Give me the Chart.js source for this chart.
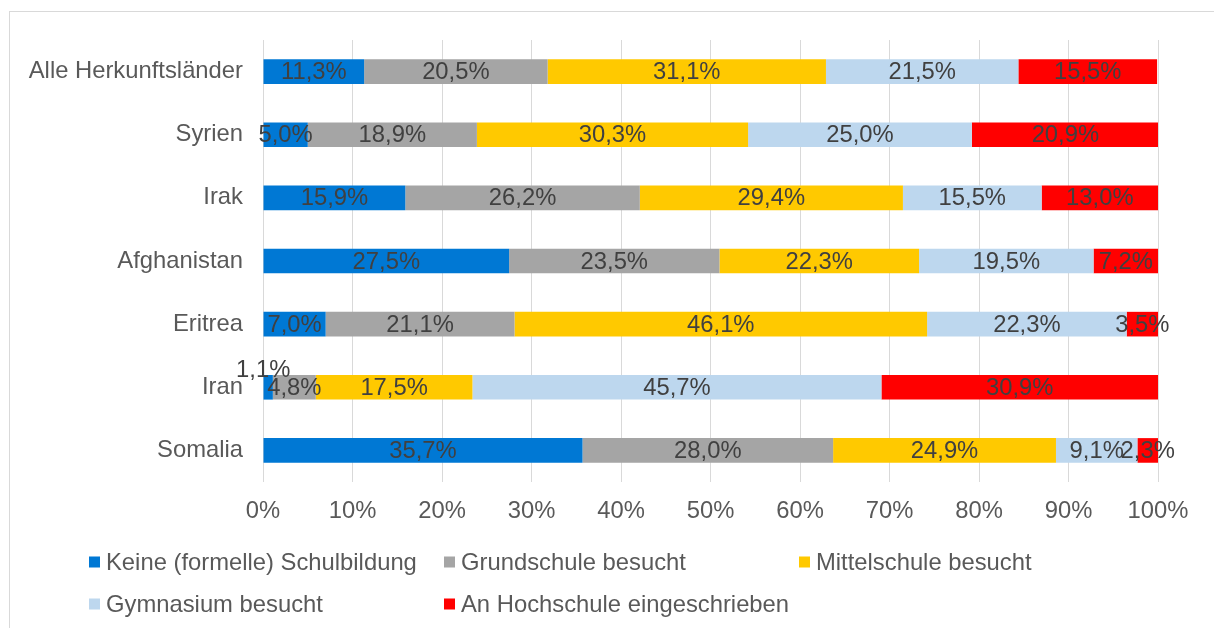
<!DOCTYPE html>
<html>
<head>
<meta charset="utf-8">
<script src="https://cdn.jsdelivr.net/npm/chart.js@4.4.1/dist/chart.umd.min.js"></script>
<style>
  html, body { margin: 0; padding: 0; background: #ffffff; overflow: hidden; }
  #wrap { position: relative; width: 1214px; height: 628px; overflow: hidden; }
  #frame { position: absolute; left: 9px; top: 11px; width: 1300px; height: 700px; border: 1px solid #d9d9d9; box-sizing: border-box; }
  #c { position: absolute; left: 0; top: 0; }
</style>
</head>
<body>
<div id="wrap">
  <div id="frame"></div>
  <canvas id="c" width="1214" height="628"></canvas>
</div>
<script>
// ---- Data ----
const categories = ["Alle Herkunftsländer", "Syrien", "Irak", "Afghanistan", "Eritrea", "Iran", "Somalia"];
const seriesNames = ["Keine (formelle) Schulbildung", "Grundschule besucht", "Mittelschule besucht", "Gymnasium besucht", "An Hochschule eingeschrieben"];
const keineSchulbildung = [11.3, 5.0, 15.9, 27.5, 7.0, 1.1, 35.7];
const grundschule       = [20.5, 18.9, 26.2, 23.5, 21.1, 4.8, 28.0];
const mittelschule      = [31.1, 30.3, 29.4, 22.3, 46.1, 17.5, 24.9];
const gymnasium         = [21.5, 25.0, 15.5, 19.5, 22.3, 45.7, 9.1];
const hochschule        = [15.5, 20.9, 13.0, 7.2, 3.5, 30.9, 2.3];
const xTicks = [0, 10, 20, 30, 40, 50, 60, 70, 80, 90, 100];

const seriesValues = [keineSchulbildung, grundschule, mittelschule, gymnasium, hochschule];
const seriesColors = ["#0078D4", "#A5A5A5", "#FFC900", "#BDD7EE", "#FF0000"];

const FONT = "'Liberation Sans', Arial, sans-serif";
const FSIZE = 23.8;

function fmt(v) { return v.toFixed(1).replace('.', ',') + '%'; }

const dataLabelPlugin = {
  id: 'dataLabels',
  afterDatasetsDraw(chart) {
    const ctx = chart.ctx;
    ctx.save();
    ctx.font = FSIZE + 'px ' + FONT;
    ctx.fillStyle = '#404040';
    ctx.textAlign = 'center';
    ctx.textBaseline = 'middle';
    chart.data.datasets.forEach((ds, i) => {
      const meta = chart.getDatasetMeta(i);
      meta.data.forEach((bar, j) => {
        const v = ds.data[j];
        const c = bar.getCenterPoint();
        let x = c.x, y = c.y + 1;
        if (v < 2) { x = c.x - 5; y = c.y - 17; }
        ctx.fillText(fmt(v), x, y);
      });
    });
    ctx.restore();
  }
};

const legendPlugin = {
  id: 'gridLegend',
  afterDraw(chart) {
    const ctx = chart.ctx;
    ctx.save();
    ctx.font = FSIZE + 'px ' + FONT;
    ctx.textBaseline = 'middle';
    ctx.textAlign = 'left';
    const x0 = 89, colW = 355, rowY = [562, 604], box = 11;
    chart.data.datasets.forEach((ds, i) => {
      const col = i % 3, row = Math.floor(i / 3);
      const x = x0 + col * colW, y = rowY[row];
      ctx.fillStyle = ds.backgroundColor;
      ctx.fillRect(x, y - box / 2, box, box);
      ctx.fillStyle = '#595959';
      ctx.fillText(ds.label, x + box + 6, y + 1);
    });
    ctx.restore();
  }
};

new Chart(document.getElementById('c'), {
  type: 'bar',
  data: {
    labels: categories,
    datasets: seriesValues.map((vals, i) => ({
      label: seriesNames[i],
      data: vals,
      backgroundColor: seriesColors[i],
      borderWidth: 0,
      barPercentage: 0.39,
      categoryPercentage: 1.0
    }))
  },
  options: {
    indexAxis: 'y',
    responsive: false,
    animation: false,
    devicePixelRatio: 1,
    layout: { padding: { top: 40, right: 56, bottom: 96, left: 0 } },
    plugins: {
      legend: { display: false },
      tooltip: { enabled: false },
      title: { display: false }
    },
    scales: {
      x: {
        stacked: true,
        min: 0, max: 100,
        afterBuildTicks(scale) { scale.ticks = xTicks.map(v => ({ value: v })); },
        afterFit(scale) { scale.height = 50; },
        ticks: {
          callback: v => v + '%',
          color: '#595959',
          font: { family: FONT, size: FSIZE },
          padding: 15,
          maxRotation: 0
        },
        grid: { color: '#d9d9d9', lineWidth: 1, drawTicks: false },
        border: { display: false }
      },
      y: {
        stacked: true,
        afterFit(scale) { scale.width = 263; },
        ticks: {
          color: '#595959',
          font: { family: FONT, size: FSIZE },
          padding: 20
        },
        grid: { display: false, drawTicks: false },
        border: { display: false }
      }
    }
  },
  plugins: [dataLabelPlugin, legendPlugin]
});
</script>
</body>
</html>
